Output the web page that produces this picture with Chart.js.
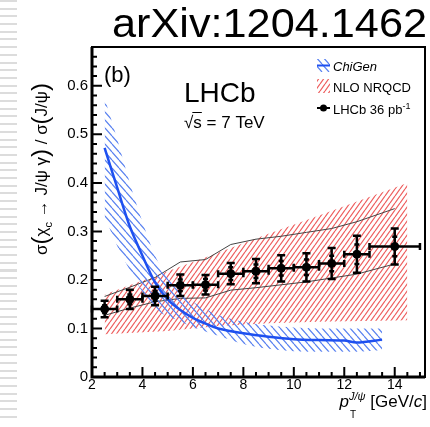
<!DOCTYPE html>
<html>
<head>
<meta charset="utf-8">
<script src="https://cdn.jsdelivr.net/npm/chart.js@4.4.0/dist/chart.umd.min.js"></script>
<style>
    body { margin: 0; background: #fff; }
    #wrap { position: relative; width: 430px; height: 427px; }
    #stripes {
        position: absolute; left: 0; top: 0; width: 17px; height: 422px;
        background: repeating-linear-gradient(to bottom, #dcdcdc 0px, #dcdcdc 2px, transparent 2px, transparent 7.7px);
    }
    canvas { position: absolute; left: 0; top: 0; }
</style>
</head>
<body>
<div id="wrap">
    <div id="stripes"></div>
    <canvas id="chart" width="430" height="427"></canvas>
</div>
<script>
// LHCb measurement (bin centres, bin edges, ratio, errors)
const pT = [2.5, 3.5, 4.5, 5.5, 6.5, 7.5, 8.5, 9.5, 10.5, 11.5, 12.5, 14];
const binLo = [2, 3, 4, 5, 6, 7, 8, 9, 10, 11, 12, 13];
const binHi = [3, 4, 5, 6, 7, 8, 9, 10, 11, 12, 13, 15];
const ratio = [0.14, 0.16, 0.167, 0.189, 0.19, 0.213, 0.218, 0.224, 0.226, 0.234, 0.253, 0.269];
const errTot = [0.017, 0.02, 0.019, 0.022, 0.02, 0.022, 0.025, 0.027, 0.029, 0.032, 0.038, 0.037];
const errStat = [0.008, 0.01, 0.01, 0.012, 0.012, 0.013, 0.014, 0.015, 0.016, 0.016, 0.02, 0.02];

// ChiGen prediction
const chiGenX = [2.5, 3, 3.5, 4, 4.5, 5, 5.5, 6, 6.5, 7, 8, 9, 10, 11, 12, 12.5, 13.5];
const chiGenY = [0.472, 0.39, 0.31, 0.25, 0.195, 0.16, 0.138, 0.122, 0.11, 0.1, 0.09, 0.083, 0.078, 0.076, 0.075, 0.071, 0.077];
const chiGenHi = [0.575, 0.49, 0.40, 0.32, 0.25, 0.205, 0.175, 0.155, 0.14, 0.128, 0.114, 0.106, 0.102, 0.1, 0.1, 0.1, 0.1];
const chiGenLo = [0.33, 0.27, 0.22, 0.175, 0.14, 0.125, 0.115, 0.103, 0.094, 0.085, 0.068, 0.058, 0.053, 0.052, 0.052, 0.052, 0.055];

// NLO NRQCD band
const nrqcdX = [2.5, 5, 7, 9, 11, 14.5];
const nrqcdHi = [0.17, 0.218, 0.256, 0.295, 0.333, 0.40];
const nrqcdLo = [0.088, 0.095, 0.105, 0.111, 0.114, 0.117];

// thin grey envelope lines
const greyX = [2.5, 3.5, 4.5, 5.5, 6.5, 7.5, 8.5, 9.5, 10.5, 11.5, 12.5, 14];
const greyHi = [0.166, 0.185, 0.205, 0.237, 0.242, 0.273, 0.284, 0.29, 0.298, 0.306, 0.32, 0.347];
const greyLo = [0.127, 0.142, 0.155, 0.162, 0.163, 0.179, 0.184, 0.19, 0.196, 0.204, 0.212, 0.233];

const xTicks = [2, 4, 6, 8, 10, 12, 14];
const yTicks = [0, 0.1, 0.2, 0.3, 0.4, 0.5, 0.6];

const FONT = '"Liberation Sans", Arial, sans-serif';
const BLUE = 'rgb(30, 80, 240)';
const BLUE_HATCH = 'rgb(90, 130, 240)';
const RED_HATCH = 'rgb(238, 95, 95)';

function pts(xs, ys) {
    return xs.map((v, i) => ({ x: v, y: ys[i] }));
}

// diagonal line pattern; dir 1 = "/", -1 = "\"
function hatch(color, w, h, dir, lw) {
    const c = document.createElement('canvas');
    c.width = w; c.height = h;
    const g = c.getContext('2d');
    g.strokeStyle = color;
    g.lineWidth = lw;
    g.beginPath();
    for (let k = -1; k <= 1; k++) {
        if (dir > 0) {
            g.moveTo(k * w, h);
            g.lineTo((k + 1) * w, 0);
        } else {
            g.moveTo(k * w, 0);
            g.lineTo((k + 1) * w, h);
        }
    }
    g.stroke();
    return g.createPattern(c, 'repeat');
}

const redPattern = hatch(RED_HATCH, 5, 7, 1, 1.2);
const bluePattern = hatch(BLUE_HATCH, 7, 8, -1, 1.2);

function richWidth(ctx, parts) {
    let w = 0;
    parts.forEach(p => { ctx.font = p.font; w += ctx.measureText(p.t).width; });
    return w;
}

function drawRich(ctx, parts, x, y) {
    let cx = x;
    parts.forEach(p => {
        ctx.font = p.font;
        ctx.fillText(p.t, cx, y + (p.dy || 0));
        cx += ctx.measureText(p.t).width;
    });
}

const decorPlugin = {
    id: 'decor',
    afterDatasetsDraw(chart) {
        const { ctx, scales: { x, y } } = chart;
        ctx.save();
        ctx.strokeStyle = '#000';
        ctx.fillStyle = '#000';
        ctx.lineWidth = 2.5;
        ctx.lineCap = 'butt';
        for (let i = 0; i < pT.length; i++) {
            const px = x.getPixelForValue(pT[i]);
            const py = y.getPixelForValue(ratio[i]);
            const x1 = x.getPixelForValue(binLo[i]);
            const x2 = x.getPixelForValue(binHi[i]);
            const yT1 = y.getPixelForValue(ratio[i] + errTot[i]);
            const yT2 = y.getPixelForValue(ratio[i] - errTot[i]);
            const yS1 = y.getPixelForValue(ratio[i] + errStat[i]);
            const yS2 = y.getPixelForValue(ratio[i] - errStat[i]);
            ctx.beginPath();
            ctx.moveTo(x1, py); ctx.lineTo(x2, py);
            ctx.moveTo(x1, py - 3.5); ctx.lineTo(x1, py + 3.5);
            ctx.moveTo(x2, py - 3.5); ctx.lineTo(x2, py + 3.5);
            ctx.moveTo(px, yT1); ctx.lineTo(px, yT2);
            ctx.moveTo(px - 4, yT1); ctx.lineTo(px + 4, yT1);
            ctx.moveTo(px - 4, yT2); ctx.lineTo(px + 4, yT2);
            ctx.moveTo(px - 2.5, yS1); ctx.lineTo(px + 2.5, yS1);
            ctx.moveTo(px - 2.5, yS2); ctx.lineTo(px + 2.5, yS2);
            ctx.stroke();
        }
        ctx.restore();
    },
    afterDraw(chart) {
        const { ctx, chartArea: a, scales: { x, y } } = chart;
        ctx.save();
        ctx.strokeStyle = '#000';
        ctx.fillStyle = '#000';

        // frame
        ctx.lineWidth = 2;
        ctx.strokeRect(a.left, a.top, a.right - a.left, a.bottom - a.top);
        ctx.lineWidth = 3;
        ctx.beginPath();
        ctx.moveTo(a.left, a.top); ctx.lineTo(a.left, a.bottom); ctx.lineTo(a.right, a.bottom);
        ctx.stroke();

        // inward ticks
        ctx.lineWidth = 2;
        ctx.beginPath();
        for (let k = 0; k <= 34; k++) {
            const py = y.getPixelForValue(k * 0.02);
            const len = k % 5 === 0 ? 10 : 5;
            ctx.moveTo(a.left, py); ctx.lineTo(a.left + len, py);
        }
        for (let k = 0; k <= 26; k++) {
            const v = 2 + k * 0.5;
            const px = x.getPixelForValue(v);
            const len = k % 4 === 0 ? 10 : 5;
            ctx.moveTo(px, a.bottom); ctx.lineTo(px, a.bottom - len);
        }
        ctx.stroke();

        // title label
        ctx.textBaseline = 'alphabetic';
        ctx.font = '40px ' + FONT;
        const tw = ctx.measureText('arXiv:1204.1462').width;
        ctx.save();
        ctx.translate(427, 37);
        ctx.scale(315 / tw, 1);
        ctx.textAlign = 'right';
        ctx.fillText('arXiv:1204.1462', 0, 0);
        ctx.restore();

        ctx.textAlign = 'left';
        ctx.font = '22px ' + FONT;
        ctx.fillText('(b)', 104, 82);
        ctx.font = '28px ' + FONT;
        ctx.fillText('LHCb', 184, 102);

        // sqrt(s) = 7 TeV
        ctx.font = '17px ' + FONT;
        ctx.fillText('\u221A', 184, 128);
        const sq = ctx.measureText('\u221A').width;
        ctx.fillText('s = 7 TeV', 184 + sq, 128);
        ctx.lineWidth = 1;
        ctx.beginPath();
        ctx.moveTo(184 + sq - 1, 112.5);
        ctx.lineTo(184 + sq + ctx.measureText('s').width, 112.5);
        ctx.stroke();

        // legend
        ctx.fillStyle = bluePattern;
        ctx.fillRect(317, 59, 13, 13);
        ctx.strokeStyle = BLUE;
        ctx.lineWidth = 2;
        ctx.beginPath(); ctx.moveTo(317, 65.5); ctx.lineTo(330, 65.5); ctx.stroke();
        ctx.fillStyle = redPattern;
        ctx.fillRect(317, 79, 13, 14);
        ctx.strokeStyle = '#000';
        ctx.beginPath(); ctx.moveTo(317, 108); ctx.lineTo(330, 108); ctx.stroke();
        ctx.fillStyle = '#000';
        ctx.beginPath(); ctx.arc(323.5, 108, 3.5, 0, Math.PI * 2); ctx.fill();

        ctx.font = 'italic 13px ' + FONT;
        ctx.fillText('ChiGen', 333, 71);
        ctx.font = '13px ' + FONT;
        ctx.fillText('NLO NRQCD', 333, 92);
        drawRich(ctx, [
            { t: 'LHCb 36 pb', font: '13px ' + FONT },
            { t: '-1', font: '9px ' + FONT, dy: -5 }
        ], 333, 114);

        // x axis title
        const xt = [
            { t: 'p', font: 'italic 17px ' + FONT },
            { t: 'J/\u03C8', font: 'italic 11px ' + FONT, dy: -7 },
            { t: ' [GeV/', font: '17px ' + FONT },
            { t: 'c', font: 'italic 17px ' + FONT },
            { t: ']', font: '17px ' + FONT }
        ];
        const xw = richWidth(ctx, xt);
        const x0 = 427 - xw;
        drawRich(ctx, xt, x0, 407);
        ctx.font = 'italic 17px ' + FONT;
        const pw = ctx.measureText('p').width;
        ctx.font = '10px ' + FONT;
        ctx.fillText('T', x0 + pw + 1, 418);

        // y axis title (rotated)
        const yt = [
            { t: '\u03C3', font: '17px ' + FONT },
            { t: '(', font: '24px ' + FONT, dy: 1 },
            { t: '\u03C7', font: '17px ' + FONT },
            { t: 'c', font: '11px ' + FONT, dy: 5 },
            { t: ' \u2192 J/\u03C8 \u03B3', font: '17px ' + FONT },
            { t: ')', font: '24px ' + FONT, dy: 1 },
            { t: ' / \u03C3', font: '17px ' + FONT },
            { t: '(', font: '24px ' + FONT, dy: 1 },
            { t: 'J/\u03C8', font: '17px ' + FONT },
            { t: ')', font: '24px ' + FONT, dy: 1 }
        ];
        const yw = richWidth(ctx, yt);
        ctx.save();
        ctx.translate(47, 169);
        ctx.rotate(-Math.PI / 2);
        drawRich(ctx, yt, -yw / 2, 0);
        ctx.restore();

        ctx.restore();
    }
};

const ctx = document.getElementById('chart').getContext('2d');
new Chart(ctx, {
    type: 'line',
    data: {
        datasets: [
            {
                label: 'LHCb 36 pb-1',
                data: pts(pT, ratio),
                showLine: false,
                pointRadius: 4,
                pointBackgroundColor: '#000',
                pointBorderColor: '#000',
                order: 0
            },
            {
                label: 'ChiGen',
                data: pts(chiGenX, chiGenY),
                borderColor: BLUE,
                borderWidth: 2.5,
                pointRadius: 0,
                tension: 0.3,
                fill: false,
                order: 1
            },
            {
                label: 'ChiGen up',
                data: pts(chiGenX, chiGenHi),
                borderWidth: 0,
                borderColor: 'transparent',
                backgroundColor: bluePattern,
                pointRadius: 0,
                tension: 0.3,
                fill: '+1',
                order: 2
            },
            {
                label: 'ChiGen down',
                data: pts(chiGenX, chiGenLo),
                borderWidth: 0,
                borderColor: 'transparent',
                pointRadius: 0,
                tension: 0.3,
                fill: false,
                order: 3
            },
            {
                label: 'grey up',
                data: pts(greyX, greyHi),
                borderColor: '#444',
                borderWidth: 1,
                pointRadius: 0,
                fill: false,
                order: 4
            },
            {
                label: 'grey down',
                data: pts(greyX, greyLo),
                borderColor: '#444',
                borderWidth: 1,
                pointRadius: 0,
                fill: false,
                order: 5
            },
            {
                label: 'NLO NRQCD up',
                data: pts(nrqcdX, nrqcdHi),
                borderWidth: 0,
                borderColor: 'transparent',
                backgroundColor: redPattern,
                pointRadius: 0,
                fill: '+1',
                order: 6
            },
            {
                label: 'NLO NRQCD down',
                data: pts(nrqcdX, nrqcdLo),
                borderWidth: 0,
                borderColor: 'transparent',
                pointRadius: 0,
                fill: false,
                order: 7
            }
        ]
    },
    options: {
        responsive: false,
        animation: false,
        layout: { padding: { left: 0, right: 5, top: 47, bottom: 0 } },
        plugins: {
            legend: { display: false },
            tooltip: { enabled: false }
        },
        scales: {
            x: {
                type: 'linear',
                min: 2,
                max: 15.2,
                grid: { display: false, drawTicks: false },
                border: { display: false },
                ticks: {
                    color: '#000',
                    font: { family: FONT, size: 14 },
                    padding: 0,
                    maxRotation: 0
                },
                afterBuildTicks: s => { s.ticks = xTicks.map(v => ({ value: v })); },
                afterFit: s => { s.height = 50; }
            },
            y: {
                type: 'linear',
                min: 0,
                max: 0.68,
                grid: { display: false, drawTicks: false },
                border: { display: false },
                ticks: {
                    color: '#000',
                    font: { family: FONT, size: 15 },
                    padding: 4,
                    callback: v => (v === 0 ? '0' : v.toFixed(1))
                },
                afterBuildTicks: s => { s.ticks = yTicks.map(v => ({ value: v })); },
                afterFit: s => { s.width = 92; }
            }
        }
    },
    plugins: [decorPlugin]
});
</script>
</body>
</html>
